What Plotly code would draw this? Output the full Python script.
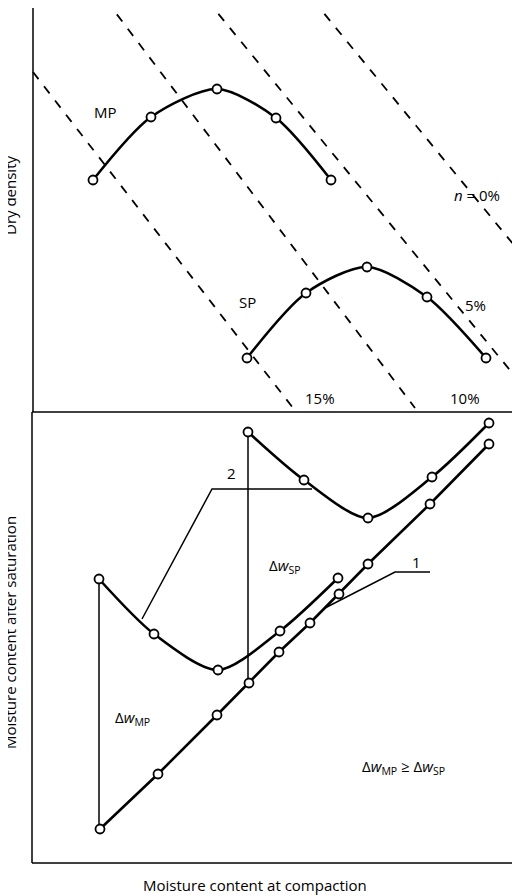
import plotly.graph_objects as go

# Точки кривых уплотнения (верхняя панель), в координатах рисунка
mp_x = [93, 151, 217, 276, 331]
mp_y = [180, 117, 89, 118, 180]
sp_x = [247, 306, 367, 427, 486]
sp_y = [358, 293, 267, 297, 358]

# Линии равной пористости n (пунктир)
n_lines_x = [[33, 293], [106, 415], [207, 518], [313, 518]]
n_lines_y = [[72, 408], [0, 408], [0, 380], [0, 250]]

# Нижняя панель: влажность после насыщения
line1_x = [100, 158, 217, 249, 279, 310, 339, 368, 430, 489]
line1_y = [829, 774, 715, 683, 652, 623, 594, 564, 504, 444]
mp2_x = [99, 154, 218, 280, 338]
mp2_y = [579, 634, 670, 631, 578]
sp2_x = [248, 304, 368, 432, 489]
sp2_y = [432, 480, 518, 477, 423]

FONT = "Open Sans"
fig = go.Figure()

def seg(xs, ys, width=1.5, dash="solid"):
    fig.add_trace(go.Scatter(x=xs, y=ys, mode="lines",
                             line=dict(color="black", width=width, dash=dash),
                             hoverinfo="skip", cliponaxis=False))

# оси / рамки
seg([33, 33], [0, 412], 1.5)
seg([32, 520], [412, 412], 1.5)
seg([32, 32], [412, 863], 1.5)
seg([32, 520], [863, 863], 1.5)

for xs, ys in zip(n_lines_x, n_lines_y):
    seg(xs, ys, 1.8, "dash")

# выноски и вертикали
seg([99, 99], [579, 829])
seg([248, 248], [432, 683])
seg([142, 212, 312], [619, 489, 489])
seg([325, 395, 430], [608, 572, 572])

marker = dict(size=9, color="white", line=dict(color="black", width=1.8))
for xs, ys, shape in [(mp_x, mp_y, "spline"), (sp_x, sp_y, "spline"),
                      (mp2_x, mp2_y, "spline"), (sp2_x, sp2_y, "spline"),
                      (line1_x, line1_y, "linear")]:
    fig.add_trace(go.Scatter(x=xs, y=ys, mode="lines+markers",
                             line=dict(color="black", width=2.6, shape=shape, smoothing=0.8),
                             marker=marker, hoverinfo="skip"))

labels = [
    (105, 112, "MP"), (247, 302, "SP"), (477, 195, "<i>n</i> = 0%"),
    (475, 305, "5%"), (320, 398, "15%"), (465, 398, "10%"),
    (231, 473, "2"), (416, 562, "1"),
    (285, 566, "Δ<i>w</i><sub>SP</sub>"), (132, 718, "Δ<i>w</i><sub>MP</sub>"),
    (403, 767, "Δ<i>w</i><sub>MP</sub> ≥ Δ<i>w</i><sub>SP</sub>"),
    (255, 885, "Moisture content at compaction"),
]
for x, y, t in labels:
    fig.add_annotation(x=x, y=y, text=t, showarrow=False,
                       font=dict(family=FONT, size=15, color="black"))
fig.add_annotation(x=10, y=195, text="Dry density", textangle=-90, showarrow=False,
                   font=dict(family=FONT, size=15, color="black"))
fig.add_annotation(x=10, y=633, text="Moisture content after saturation", textangle=-90,
                   showarrow=False, font=dict(family=FONT, size=15, color="black"))

# страница имеет отступ 8px, поэтому фигура чуть меньше окна
fig.update_layout(
    width=512, height=888, margin=dict(l=0, r=0, t=0, b=0),
    plot_bgcolor="white", paper_bgcolor="white", showlegend=False,
    xaxis=dict(range=[8, 520], visible=False),
    yaxis=dict(range=[896, 8], visible=False),
)

fig.write_html("out.html")
